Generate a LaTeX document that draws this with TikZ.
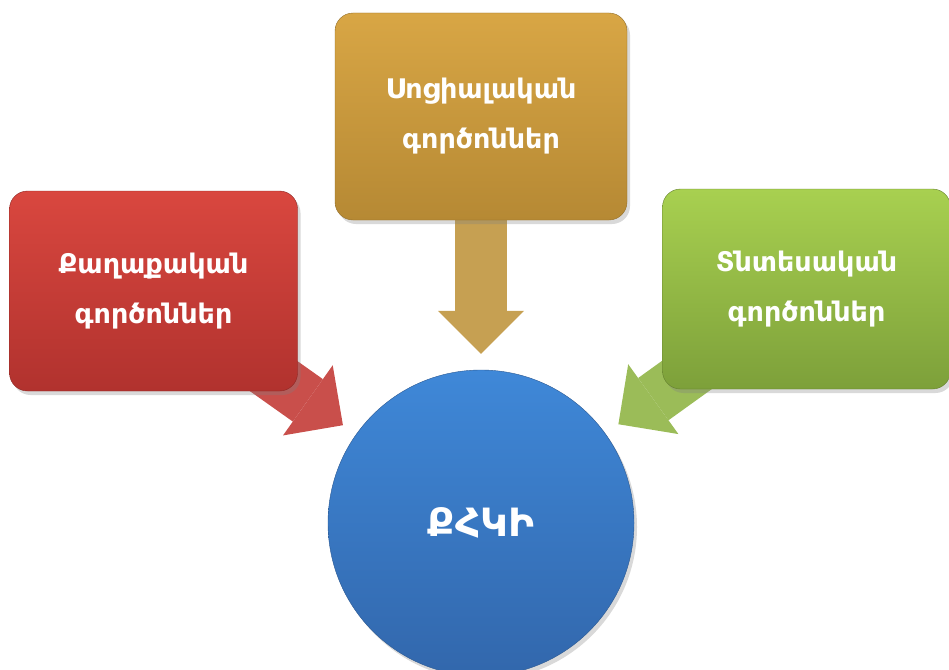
\documentclass[tikz,border=0pt]{standalone}
\usepackage{fontspec}
\setmainfont{DejaVu Sans}
\usepackage{xcolor}
\usetikzlibrary{arrows.meta, backgrounds, shadows}
\definecolor{PolTop}{HTML}{D9473F}
\definecolor{PolBottom}{HTML}{B1322E}
\definecolor{PolArrow}{HTML}{C94F4B}
\definecolor{SocTop}{HTML}{D8A645}
\definecolor{SocBottom}{HTML}{B68934}
\definecolor{SocArrow}{HTML}{C6A052}
\definecolor{EcoTop}{HTML}{A8D050}
\definecolor{EcoBottom}{HTML}{7DA03A}
\definecolor{EcoArrow}{HTML}{9BBC58}
\definecolor{HubTop}{HTML}{3F88D8}
\definecolor{HubBottom}{HTML}{3267AC}
\tikzset{
  factor/.style={rectangle, rounded corners=18pt, minimum width=288pt,
                 minimum height=200pt, text=white, align=center,
                 font=\fontsize{27}{50}\selectfont\bfseries,
                 drop shadow={opacity=0.3, shadow xshift=3pt, shadow yshift=-4pt}},
  push/.style={line width=52pt, shorten >=16pt,
               -{Triangle[length=43pt, width=86pt, line width=0pt]}}
}

\begin{document}
\begin{tikzpicture}[x=1pt, y=-1pt]
    \useasboundingbox (0,0) rectangle (949,669);

    % Factor boxes
    \node[factor, top color=PolTop, bottom color=PolBottom, draw=PolBottom!80!black]
          (pol) at (153.5,291) {Քաղաքական\\գործոններ};

    \node[factor, top color=SocTop, bottom color=SocBottom, draw=SocBottom!80!black,
          minimum width=292pt, minimum height=207pt]
          (soc) at (481,116.5) {Սոցիալական\\գործոններ};

    \node[factor, top color=EcoTop, bottom color=EcoBottom, draw=EcoBottom!80!black]
          (eco) at (806.5,289) {Տնտեսական\\գործոններ};

    % Central circle
    \node[circle, minimum size=306pt, top color=HubTop, bottom color=HubBottom,
          draw=HubBottom!85!black, text=white,
          font=\fontsize{39}{44}\selectfont\bfseries,
          drop shadow={opacity=0.3, shadow xshift=3pt, shadow yshift=-4pt}]
          (hub) at (481,523) {ՔՀԿԻ};

    % Block arrows
    \begin{scope}[on background layer]
        \draw[push, draw=PolArrow] (pol.center) -- (hub);
        \draw[push, draw=SocArrow] (soc.center) -- (hub);
        \draw[push, draw=EcoArrow] (eco.center) -- (hub);
    \end{scope}
\end{tikzpicture}
\end{document}
